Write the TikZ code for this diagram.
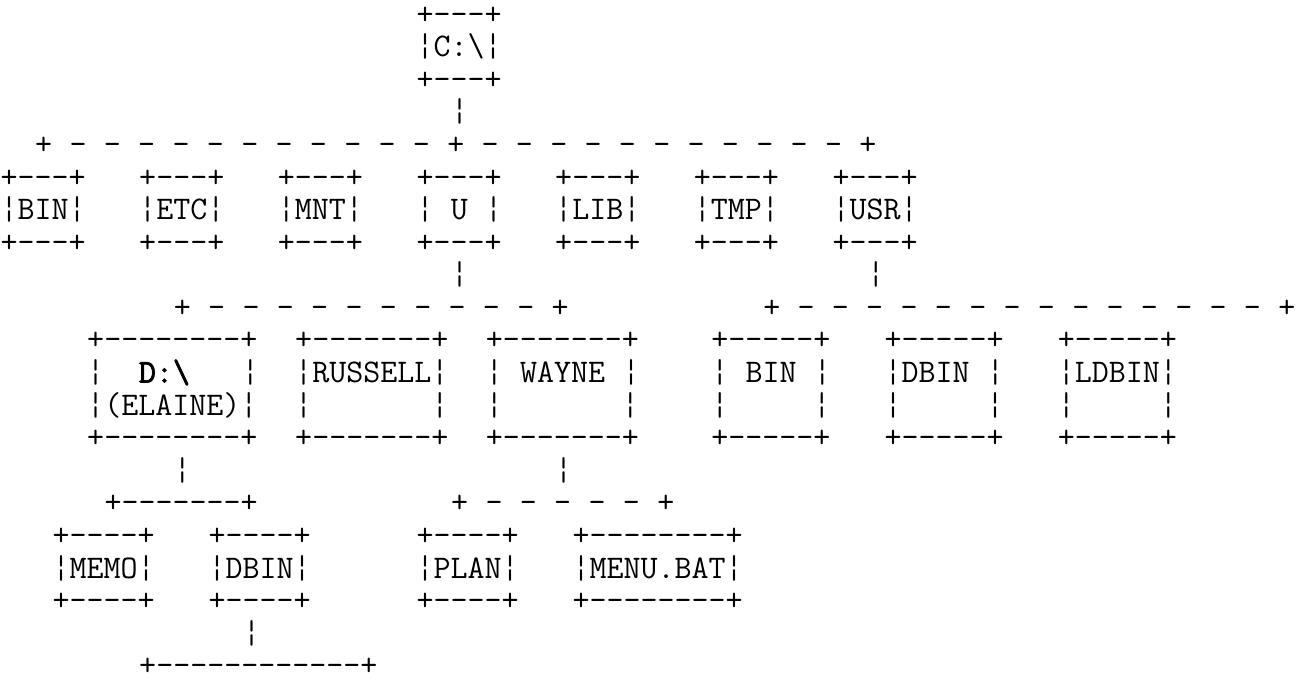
\documentclass[tikz,border=0pt]{standalone}
\usepackage{fontspec}
\setmonofont{Latin Modern Mono}[BoldFont = {Latin Modern Mono}, BoldFeatures = {FakeBold = 2.5}]
\begin{document}
\begin{tikzpicture} [x = 6pt, y = -11.28pt, every node/.style = {font = {\ttfamily\fontsize{11.43}{13}\selectfont\spaceskip 6pt\relax}, inner sep = 0pt, anchor = base west}]
	\useasboundingbox (0,0) rectangle (75,20.87);
	\node (croot-t) at (24,0.74) {+---+};
	\node (croot) at (24,1.74) {¦C:\textbackslash¦};
	\node (croot-b) at (24,2.74) {+---+};
	\node (croot-l) at (26,3.74) {¦};
	\node (croot-branch) at (2,4.74) {+ - - - - - - - - - - - + - - - - - - - - - - - +};
	\foreach \c/\n/\t in {0/bin/BIN, 8/etc/ETC, 16/mnt/MNT, 24/u/{\ U\ }, 32/lib/LIB, 40/tmp/TMP, 48/usr/USR} {
		\node (\n-t) at (\c,5.74) {+---+};
		\node (\n) at (\c,6.74) {¦\t¦};
		\node (\n-b) at (\c,7.74) {+---+};
	}
	\node (u-l) at (26,8.74) {¦};
	\node (usr-l) at (50,8.74) {¦};
	\node (u-branch) at (10,9.74) {+ - - - - - - - - - - +};
	\node (usr-branch) at (44,9.74) {+ - - - - - - - - - - - - - - +};
	\node (elaine-t) at (5,10.74) {+--------+};
	\node (elaine) at (5,11.74) {¦\ \ \textbf{D:\textbackslash}\ \ \ ¦};
	\node (elaine-n) at (5,12.74) {¦(ELAINE)¦};
	\node (elaine-b) at (5,13.74) {+--------+};
	\foreach \c/\n/\t in {17/russell/RUSSELL, 28/wayne/{\ WAYNE\ }} {
		\node (\n-t) at (\c,10.74) {+-------+};
		\node (\n) at (\c,11.74) {¦\t¦};
		\node (\n-e) at (\c,12.74) {¦\phantom{RUSSELL}¦};
		\node (\n-b) at (\c,13.74) {+-------+};
	}
	\foreach \c/\n/\t in {41/ubin/{\ BIN\ }, 51/udbin/{DBIN\ }, 61/ldbin/LDBIN} {
		\node (\n-t) at (\c,10.74) {+-----+};
		\node (\n) at (\c,11.74) {¦\t¦};
		\node (\n-e) at (\c,12.74) {¦\phantom{LDBIN}¦};
		\node (\n-b) at (\c,13.74) {+-----+};
	}
	\node (elaine-l) at (10,14.74) {¦};
	\node (wayne-l) at (32,14.74) {¦};
	\node (elaine-branch) at (6,15.74) {+-------+};
	\node (wayne-branch) at (26,15.74) {+ - - - - - +};
	\foreach \c/\n/\t in {3/memo/MEMO, 12/dbin/DBIN, 24/plan/PLAN} {
		\node (\n-t) at (\c,16.74) {+----+};
		\node (\n) at (\c,17.74) {¦\t¦};
		\node (\n-b) at (\c,18.74) {+----+};
	}
	\node (menu-t) at (33,16.74) {+--------+};
	\node (menu) at (33,17.74) {¦MENU.BAT¦};
	\node (menu-b) at (33,18.74) {+--------+};
	\node (dbin-l) at (14,19.74) {¦};
	\node (dbin-branch) at (8,20.74) {+------------+};
\end{tikzpicture}
\end{document}
